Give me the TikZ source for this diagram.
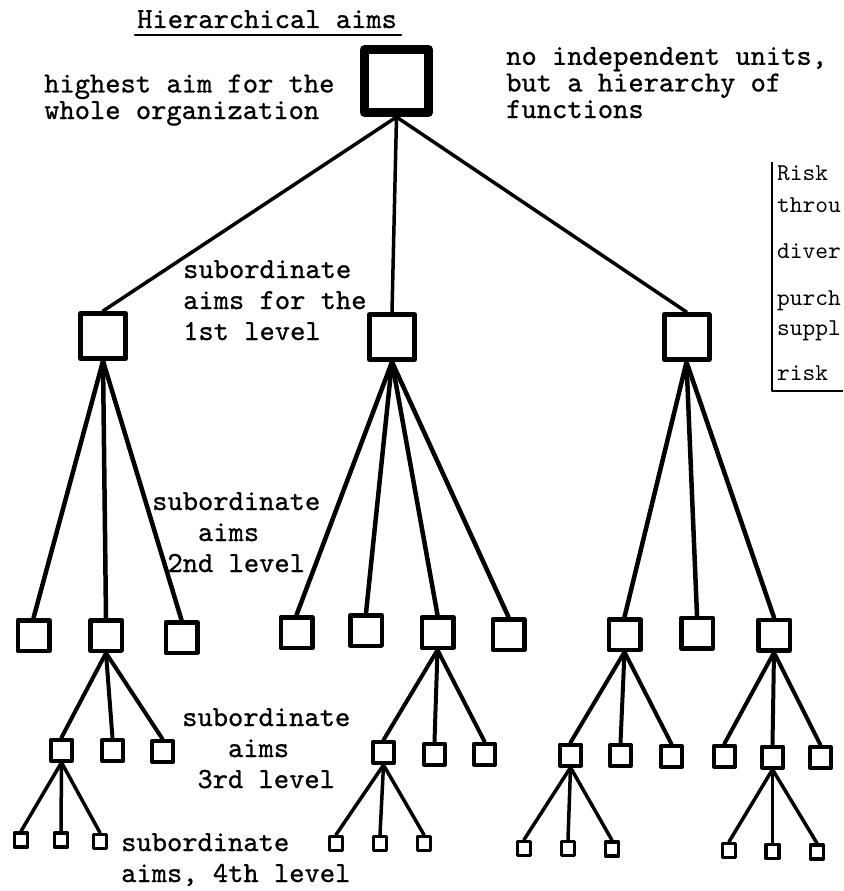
\documentclass[tikz,border=0pt]{standalone}
\usepackage{fontspec}
\newfontfamily\typew{lmmono10-regular.otf}[FakeBold=0.8]
\newfontfamily\typel{lmmono10-regular.otf}
\begin{document}
\begin{tikzpicture}[x=1pt,y=-1pt,
  lbl/.style={inner sep=0pt,anchor=base west,align=left,font=\typew\fontsize{29.1}{31}\selectfont},
  tight/.style={font=\typew\fontsize{29.1}{26.6}\selectfont},
  lgd/.style={inner sep=0pt,anchor=base west,font=\typel\fontsize{24.2}{30}\selectfont},
  topbox/.style={draw,line width=9pt,minimum width=64pt,minimum height=63pt,inner sep=0pt},
  boxa/.style={draw,line width=5pt,minimum width=45pt,minimum height=45pt,inner sep=0pt},
  boxb/.style={draw,line width=4.5pt,minimum width=31.5pt,minimum height=30.5pt,inner sep=0pt},
  boxc/.style={draw,line width=4pt,minimum width=21pt,minimum height=21pt,inner sep=0pt},
  boxd/.style={draw,line width=3.5pt,minimum width=13pt,minimum height=14pt,inner sep=0pt},
  linka/.style={line width=3.5pt},
  linkb/.style={line width=4.5pt},
  linkc/.style={line width=4pt},
  linkd/.style={line width=3.5pt},
  line cap=round, line join=round]
\useasboundingbox (0,0) rectangle (843,891);

% ---- title and side notes (multi-line nodes are placed by their last baseline) ----
\node[lbl] (title) at (137,28) {Hierarchical aims};
\draw[line width=2.5pt] ([xshift=-2pt,yshift=-7pt]title.base west) -- ([xshift=4pt,yshift=-7pt]title.base east);
\node[lbl,tight] (hl) at (44,119) {highest aim for the\\whole organization};
\node[lbl,tight] (nr) at (506,118) {no independent units,\\but a hierarchy of\\functions};

% ---- boxes: top level ----
\node[topbox] (T) at (396.5,81) {};
% first level
\node[boxa] (A) at (103,336) {};
\node[boxa] (B) at (392,337) {};
\node[boxa] (C) at (686.5,337) {};
% second level
\node[boxb] (A1) at (33.5,635.5) {};
\node[boxb] (A2) at (106,635.5) {};
\node[boxb] (A3) at (181.5,637.5) {};
\node[boxb] (B1) at (296.5,632.5) {};
\node[boxb] (B2) at (366,630.5) {};
\node[boxb] (B3) at (437.5,632.5) {};
\node[boxb] (B4) at (508.5,634.5) {};
\node[boxb] (C1) at (624.5,634.5) {};
\node[boxb] (C2) at (697,633) {};
\node[boxb] (C3) at (774,635) {};
% third level
\node[boxc] (A2a) at (61.5,750) {};
\node[boxc] (A2b) at (112.5,750.5) {};
\node[boxc] (A2c) at (162.5,751.5) {};
\node[boxc] (B3a) at (383.5,752.5) {};
\node[boxc] (B3b) at (434.5,754) {};
\node[boxc] (B3c) at (484.5,754) {};
\node[boxc] (C1a) at (570.5,755) {};
\node[boxc] (C1b) at (620.5,755.5) {};
\node[boxc] (C1c) at (671.5,756.5) {};
\node[boxc] (C3a) at (724.5,756) {};
\node[boxc] (C3b) at (772.5,757) {};
\node[boxc] (C3c) at (820.5,757.5) {};
% fourth level
\node[boxd] (A2a1) at (21,840) {};
\node[boxd] (A2a2) at (61,840) {};
\node[boxd] (A2a3) at (100,841.5) {};
\node[boxd] (B3a1) at (336,843.5) {};
\node[boxd] (B3a2) at (380,843.5) {};
\node[boxd] (B3a3) at (424,843.5) {};
\node[boxd] (C1a1) at (524,848.5) {};
\node[boxd] (C1a2) at (568,848.5) {};
\node[boxd] (C1a3) at (612,849) {};
\node[boxd] (C3b1) at (729,850.5) {};
\node[boxd] (C3b2) at (772.5,851.5) {};
\node[boxd] (C3b3) at (817,852) {};

% ---- connectors ----
\foreach \c in {A,B,C} \draw[linka] (T.south) -- (\c.north);
\foreach \c in {A1,A2,A3} \draw[linkb] (A.south) -- (\c.north);
\foreach \c in {B1,B2,B3,B4} \draw[linkb] (B.south) -- (\c.north);
\foreach \c in {C1,C2,C3} \draw[linkb] (C.south) -- (\c.north);
\foreach \c in {A2a,A2b,A2c} \draw[linkc] (A2.south) -- (\c.north);
\foreach \c in {B3a,B3b,B3c} \draw[linkc] (B3.south) -- (\c.north);
\foreach \c in {C1a,C1b,C1c} \draw[linkc] (C1.south) -- (\c.north);
\foreach \c in {C3a,C3b,C3c} \draw[linkc] (C3.south) -- (\c.north);
\foreach \c in {A2a1,A2a2,A2a3} \draw[linkd] (A2a.south) -- (\c.north);
\foreach \c in {B3a1,B3a2,B3a3} \draw[linkd] (B3a.south) -- (\c.north);
\foreach \c in {C1a1,C1a2,C1a3} \draw[linkd] (C1a.south) -- (\c.north);
\foreach \c in {C3b1,C3b2,C3b3} \draw[linkd] (C3b.south) -- (\c.north);

% ---- level labels ----
\node[lbl] (s1) at (183,340) {subordinate\\aims for the\\1st level};
\node[lbl] (s2) at (152,572) {subordinate\\\phantom{xxx}aims\\\phantom{x}2nd level};
\node[lbl] (s3) at (182,788) {subordinate\\\phantom{xxx}aims\\\phantom{x}3rd level};
\node[lbl] (s4) at (121,882) {subordinate\\aims, 4th level};

% ---- bracketed list at the right edge ----
\begin{scope}
\clip (0,0) rectangle (843,891);
\coordinate (lgtop) at (772,162);
\coordinate (lgcorner) at (772,391);
\coordinate (lgend) at (843,391);
\draw[line width=2.5pt,line cap=butt] (lgtop) -- (lgcorner) -- (lgend);
\node[lgd] (r1) at (777,180) {Risk};
\node[lgd] (r2) at (777,212) {throu};
\node[lgd] (r3) at (777,258) {diver};
\node[lgd] (r4) at (777,305) {purch};
\node[lgd] (r5) at (777,335) {suppl};
\node[lgd] (r6) at (777,380) {risk};
\end{scope}
\end{tikzpicture}
\end{document}
